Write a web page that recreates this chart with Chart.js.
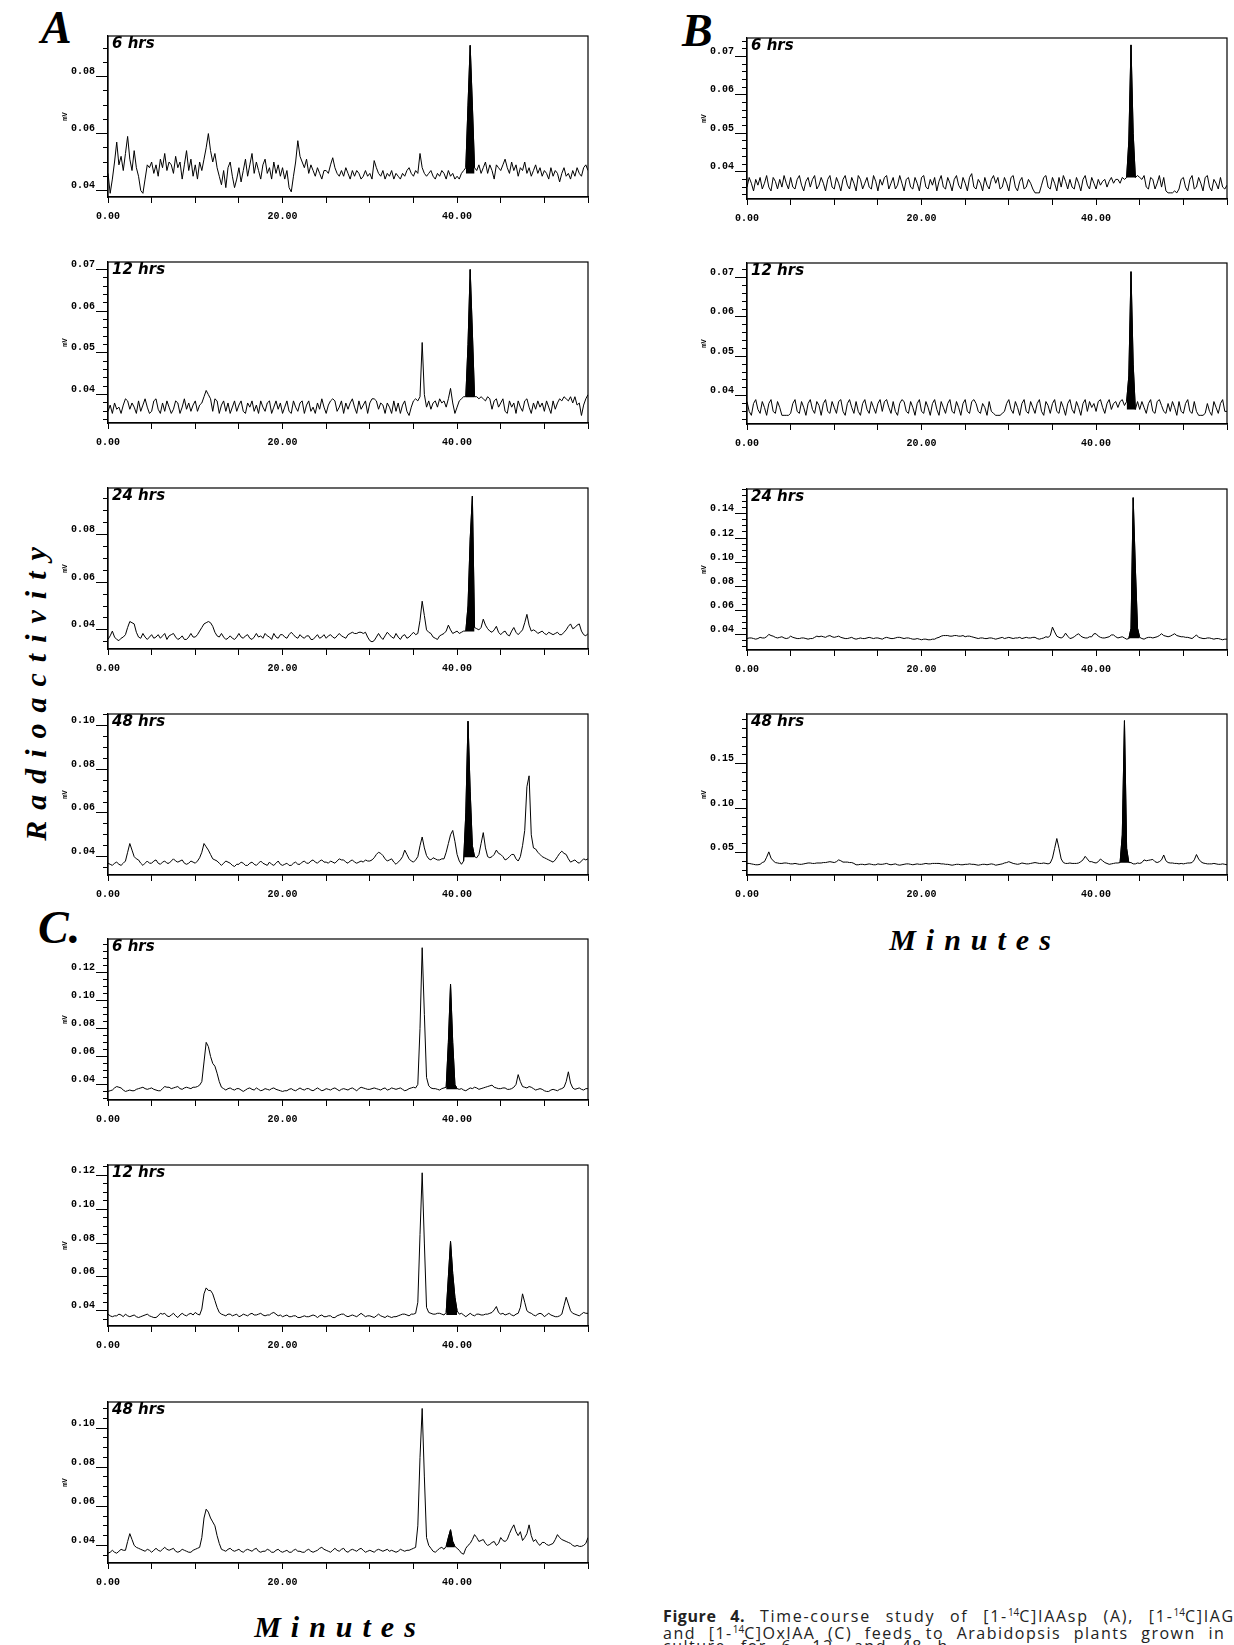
<!DOCTYPE html>
<html>
<head>
<meta charset="utf-8">
<script src="https://cdn.jsdelivr.net/npm/chart.js@4.4.1/dist/chart.umd.min.js"></script>
<style>
html, body { margin: 0; padding: 0; width: 1234px; height: 1645px; overflow: hidden; background: #fff; }
.panel { position: absolute; }
.horas { position: absolute; font: italic bold 15px 'DejaVu Sans', sans-serif; line-height: 1; color: #000; }
.letra { position: absolute; font: italic bold 46px 'Liberation Serif', serif; line-height: 1; color: #000; }
.titulo { position: absolute; font: italic bold 30px 'Liberation Serif', serif; letter-spacing: 10px; text-align: center; color: #000; }
.leyenda { position: absolute; left: 663px; font: 16px 'Open Sans', sans-serif; letter-spacing: 1.5px; word-spacing: 9px; white-space: nowrap; color: #222; line-height: 17px; }
.leyenda b { letter-spacing: 0.6px; }
.leyenda sup { font-size: 10px; letter-spacing: 0; }
</style>
</head>
<body>
<div class="letra" style="left:41px; top:5px;">A</div>
<div class="letra" style="left:682px; top:8px;">B</div>
<div class="letra" style="left:38px; top:905px;">C.</div>
<div class="titulo" style="left:-140px; top:676px; width:340px; height:36px; line-height:36px; padding-left:11px; letter-spacing:11px; transform:rotate(-90deg);">Radioactivity</div>
<div class="titulo" style="left:180px; top:1612px; width:300px; line-height:1; padding-left:10px;">Minutes</div>
<div class="titulo" style="left:815px; top:925px; width:300px; line-height:1; padding-left:10px;">Minutes</div>
<div class="leyenda" style="top:1604px; letter-spacing:1.7px;"><b>Figure 4.</b> Time-course study of [1-<sup>14</sup>C]IAAsp (A), [1-<sup>14</sup>C]IAGlc (B),</div>
<div class="leyenda" style="top:1621px; word-spacing:7px;">and [1-<sup>14</sup>C]OxIAA (C) feeds to Arabidopsis plants grown in liquid</div>
<div class="leyenda" style="top:1638px;">culture for 6, 12, and 48 h.</div>
<script>
// Tiempos de muestreo (min), cada 0.25 min
const TIMES = [0,0.25,0.5,0.75,1,1.25,1.5,1.75,2,2.25,2.5,2.75,3,3.25,3.5,3.75,4,4.25,4.5,4.75,
  5,5.25,5.5,5.75,6,6.25,6.5,6.75,7,7.25,7.5,7.75,8,8.25,8.5,8.75,9,9.25,9.5,9.75,
  10,10.25,10.5,10.75,11,11.25,11.5,11.75,12,12.25,12.5,12.75,13,13.25,13.5,13.75,14,14.25,14.5,14.75,
  15,15.25,15.5,15.75,16,16.25,16.5,16.75,17,17.25,17.5,17.75,18,18.25,18.5,18.75,19,19.25,19.5,19.75,
  20,20.25,20.5,20.75,21,21.25,21.5,21.75,22,22.25,22.5,22.75,23,23.25,23.5,23.75,24,24.25,24.5,24.75,
  25,25.25,25.5,25.75,26,26.25,26.5,26.75,27,27.25,27.5,27.75,28,28.25,28.5,28.75,29,29.25,29.5,29.75,
  30,30.25,30.5,30.75,31,31.25,31.5,31.75,32,32.25,32.5,32.75,33,33.25,33.5,33.75,34,34.25,34.5,34.75,
  35,35.25,35.5,35.75,36,36.25,36.5,36.75,37,37.25,37.5,37.75,38,38.25,38.5,38.75,39,39.25,39.5,39.75,
  40,40.25,40.5,40.75,41,41.25,41.5,41.75,42,42.25,42.5,42.75,43,43.25,43.5,43.75,44,44.25,44.5,44.75,
  45,45.25,45.5,45.75,46,46.25,46.5,46.75,47,47.25,47.5,47.75,48,48.25,48.5,48.75,49,49.25,49.5,49.75,
  50,50.25,50.5,50.75,51,51.25,51.5,51.75,52,52.25,52.5,52.75,53,53.25,53.5,53.75,54,54.25,54.5,54.75,
  55];
const X_LABELS = [0, 20, 40];

// Señal en µV (0.001 mV) para cada cromatograma
const a6Trace = [46,39,44,50,57,49,52,47,53,59,51,47,54,48,45,40,39,44,49,48,
  50,46,49,45,51,48,53,47,50,49,46,52,48,50,44,49,54,47,51,45,
  49,44,50,47,51,55,60,54,50,53,48,45,42,47,41,48,50,45,41,44,
  48,43,47,51,45,49,53,46,50,47,44,49,51,46,48,44,50,46,49,45,
  48,44,47,41,39.5,45,50,57.5,52,50,48,51,46,49,47,45,48,46,44,47,
  47,46,49,51.5,48,46,45,47,45,48,46,44,47,45,47,46,44,45,47,45,
  46,44,50.5,48,46,45,47,44,46,45,47,44,46,45,44,46,45,47,48,46,
  45,47,46,53,48,46,45,46,47,45,44,46,45,47,46,44,47,45,46,44,
  45,44,46,47,48,70,91,70,48,47,49,46,48,50,46,49,47,44,49,48,
  47,49,51,48,46,50,47,49,45,48,47,50,46,48,45,47,49,46,48,45,
  47,46,44,48,45,47,46,43,46,48,45,46,44,47,45,48,46,45,48,49,
  47];
const a12Trace = [36,37.5,35.5,38,36.5,37,35.5,37.5,39,38.5,36.5,38,37,35.5,38.5,36,37.5,39,37,35.5,
  36,38.5,39,36.5,35.5,38,36,38.5,37,35.5,36.5,38.5,38,35.5,37,39,36.5,38,36,37.5,
  38.5,36,37.5,38,39.5,41,40,39,36,39,38.5,35.5,37.5,38.5,36,38,35.5,37,38.5,36,
  37.5,38.5,36,35.5,38,37,38.5,36,37.5,35.5,38.5,37,36,38,38.5,35.5,37,38.5,36.5,38,
  35.5,37,38.5,36,35.5,38.5,37,36,38,38.5,35.5,37.5,38.5,36,37,35.5,38,36.5,39,37,
  35.5,37.5,38.5,39,38.5,36,37,38.5,35.5,38,36.5,38,39,37,35.5,38.5,36.5,37.5,38.5,35.5,
  38,39,39,38.5,36.5,38,37.5,35.5,38,37,35.5,38.5,36,38,35.5,37.5,38.5,36,35,37,
  38.5,39,38.5,39.5,52.5,40,37,38.5,36.5,38,38.5,37,39,38,38.5,37,39,41.5,38,35.5,
  37,38.5,39,39.5,39.5,52,70,55,39.5,39.5,39,39.5,39,38.5,39.5,39,36.5,38.5,39,37,
  38,39,36,35.5,38.5,37,38,35.5,38.5,37,36,38.5,39,37,35.5,38,36.5,38.5,37,38,
  36,38.5,37,35.5,38.5,36.5,38,39,38.5,39.5,39,38.5,39.5,38,39.5,37.5,38,35,37.5,39,
  40];
const a24Trace = [36,37.5,39.5,37,36,35.5,36.5,37,38,41,43.5,43,42.5,39,37,36.5,38.5,37,36,37,
  38,36.5,37,38,36.5,37.5,38.5,36,37.5,38,38.5,37,36,36.5,37.5,36,36,37,38.5,37,
  37,38,39.5,41,42.5,43,43.5,43,41.5,39,37.5,37,38.5,37,36,36.5,37.5,36.5,36,37,
  38.5,37,36.5,37.5,38,36.5,36,37,38.5,37,37.5,36.5,38.5,37.5,37,36,38.5,37,36.5,38,
  38,37,36.5,38,39,38,37,36.5,38,37,36.5,37.5,37.5,36,36,37,38,36.5,37,38,
  36.5,37.5,38,37,36.5,37.5,38.5,37.5,37,36.5,38,38.5,39,38.5,38.5,39,39,38.5,39,37,
  35.5,35,35.5,37,38.5,37,36,37.5,39,38,37,36.5,38.5,37,36,37.5,38,36.5,37,38,
  39,38,38.5,44,52,46,40,39,38.5,37,36.5,36,37.5,38,38.5,39.5,42,40,38.5,39,
  39.5,38.5,39,39.5,39.5,50,78,96,41,40.5,40,41,44.5,42,40.5,39.5,39,40,41.5,39,
  38,39,39.5,38,37.5,39.5,41,39,38,39,40,43,46.5,42,39.5,40,39.5,38.5,39,39.5,
  38.5,38,39,38.5,38,38.5,39,38,38,39,40,41.5,42.5,40.5,41,42,42.5,39.5,38,37.5,
  38.5];
const a48Trace = [37,36.5,36,37,37.5,36.5,36,37,38,42,46,43,40,39,38.5,37,36,37,38,37,
  37,38,38.5,37,36.5,37.5,38,37,37,38,39,38,37.5,38,38.5,37,36.5,37,38,37.5,
  37,38,39.5,42,46,44.5,43,41,39,38.5,38,37,36,37,38,37.5,37,36,35.5,36.5,
  36.5,37.5,37,36,36,37,37.5,36.5,36,37,38,37,36.5,36,37.5,36.5,36,37,38,36.5,
  36,36.5,37,36,36,37,37.5,36.5,36.5,37.5,38,37,37,38,38.5,37.5,37,38,38.5,37.5,
  37.5,37,38,37.5,37,38,39,38.5,38.5,37.5,37,38,38.5,37.5,37,37.5,38,37.5,38.5,38,
  38,38.5,39.5,41,42,41.5,40.5,39,38,38.5,39,37.5,36.5,37.5,38.5,40,43,41,39,38,
  37.5,38.5,40,45,49,44,40.5,39,38.5,39.5,39,38.5,38.5,39,39,42,46,50,52,47,
  41,38,36.5,38,60,102,70,45,40,39.5,41,46,51,44,40,39.5,40,41,43,41.5,
  41,40,38.5,39,40,41,41,39,38,40,45,52,72,77,50,44,43.5,42,41,40,
  39.5,39,38.5,38,37.5,38.5,40,41.5,42.5,41.5,41,39,37.5,38,38.5,37.5,37,38,39,38.5,
  39];
const b6Trace = [36,38.5,37,35,38,36.5,38.5,35.5,37,39,36,35,38.5,37.5,35.5,38,36,39,37,35.5,
  38.5,36,35.5,38,39,36.5,35,37.5,38.5,36,38,39,35.5,36.5,38.5,37,35,38,39,36,
  35.5,38.5,37,35,38,39,36.5,35.5,38.5,37,35,39,38,35.5,37,38.5,36,35.5,39,37.5,
  35,38,36.5,38.5,39,35.5,37,38.5,35.5,36.5,39,37,35,38,38.5,36,35.5,38.5,37,35,
  38.5,39,36,35.5,38,36.5,38.5,35,37.5,39,36,35.5,38.5,37,35,38,39,36.5,35.5,38.5,
  37,35,38.5,39.5,36,35.5,38,37,35,38.5,36.5,35.5,38,39,37,38.5,35.5,36,38.5,37,
  35,38.5,39,36,35,37.5,38.5,35.5,36,38,37,35.5,34.5,34.5,34.5,36.5,38.5,39,36,35.5,
  38.5,37,35,38.5,36,39,37.5,35.5,38,36,35.5,38.5,37,35,38,39,36.5,35.5,38.5,37,
  35.5,38,36.5,37.5,38,36,37.5,38.5,37,38,38,37,38.5,38,38.5,48,73,50,38.5,39,
  38.5,38,39,36,35.5,38.5,38,35.5,37,39,36,38.5,35,34.5,34.5,34.5,35,34.5,35.5,38,
  38.5,36,35,38,39,35.5,36,38.5,37,35,38.5,39,36,35,38,37,35.5,38.5,36,35.5,
  36.5];
const b12Trace = [38.5,36,35,38,39,36.5,35.5,38.5,37,35,38,39,36,35.5,38.5,37,35,35,35,35,
  35.5,38,39,36,35.5,38.5,37,35,38,39,36.5,35.5,38.5,37.5,35,38,39,36,35.5,38.5,
  37,35.5,38.5,39,36,35,38,39,37,35.5,38.5,36,35,38,39,36.5,35.5,38.5,37,35.5,
  38,39,36,38.5,39,37,35.5,38.5,36,35,38,39,38.5,36,35.5,38.5,37,35,38,39,
  36,35.5,38.5,37,35,38,39,36.5,35,38.5,37,35.5,38,39,36,35.5,38.5,37,35,38,
  39,36,35.5,38.5,39,38,36,35.5,38,37,35,38.5,36,35.5,35,35,35,35.5,36,38,
  39,36.5,35.5,38.5,37,35,38,39,36,35.5,38.5,37,35.5,38,39,36,35,38.5,37.5,35.5,
  38,39,36,35.5,38.5,37,35,38,39,36.5,35.5,38.5,37,35,38,39,36,38.5,37,38,
  36,38.5,39,37,35.5,38,39,36.5,38,38.5,37,38.5,39,37.5,38.5,45,71.5,48,36.5,38.5,
  36.5,38.5,37,35.5,38,39,36,35.5,38.5,39,37.5,36,35.5,38,36,38.5,37,35,38.5,36,
  35.5,38,39,36,35.5,38.5,36,35,35,35,35.5,38,36,35,38.5,37,35.5,38,39,36,
  36];
const b24Trace = [36.5,37,37,36.5,36,36.5,37.5,37,37,38,40,39,38.5,37.5,37,37.5,38,37,36.5,37,
  38.5,37.5,37,36.5,36.5,37,37,36.5,36,36.5,36.5,37.5,38.5,38,38.5,38,37.5,38.5,39,38,
  37.5,38,38.5,37.5,37,36.5,36.5,37,37.5,36.5,36,36.5,37,36.5,36.5,37,37.5,37,36.5,37,
  37,36.5,36,37,37.5,37,36.5,36.5,37,37.5,37.5,37,36.5,37,37,36.5,36,36,36.5,36,
  35.5,36,36,35.5,35.5,36,36,37,37.5,38.5,39,39,39,38.5,38.5,39,39,38.5,38.5,39,
  38,38.5,38.5,38,37.5,37,36.5,37,37,36.5,36.5,37,37,36.5,36,36.5,37,37.5,36.5,37,
  37.5,37,36.5,37,37,37.5,36.5,37,37.5,37,37,37.5,37.5,36.5,36,36.5,37,38,37.5,39,
  46,42,38.5,37.5,37,38,41,38.5,36.5,37,38,39.5,40.5,38.5,37.5,37,37,38,38,40.5,
  40.5,38.5,37.5,37,37,37.5,38,39.5,39.5,38,37,37.5,38,37,36,36.5,45,153.5,95,45,
  37.5,36.5,36,37,37.5,37.5,37,37.5,38,39,40.5,39,38.5,38,38.5,39.5,40.5,39,38.5,38,
  38,37.5,37.5,37,36.5,38,39.5,37.5,37,36.5,36.5,37,37,36.5,36,36.5,36.5,36,35.5,36,
  36];
const b48Trace = [38,38,37.5,37,36.5,36.5,37,39,40,45,51,44,41,39,38.5,38,38,38.5,38.5,38,
  37.5,37.5,38,37.5,37,37,37.5,38,38.5,38.5,38,38,38.5,38.5,38.5,39,39,39.5,40,39.5,
  39,40,42,41,39.5,39.5,39.5,39,39,38,36.5,36.5,37,37,36.5,37,37.5,37,36.5,36.5,
  37.5,37,37,37.5,38,37,36.5,37,37.5,36.5,36,36.5,37,37.5,37.5,37,36.5,37,37.5,37,
  37,37.5,38,37.5,37.5,38,38,38,38,37.5,37.5,37,37,36.5,36,36.5,37,37,36.5,36.5,
  37,37,37.5,37,37,36.5,36,36.5,37,37,36.5,37,37.5,37,36,36.5,37,37.5,38.5,39,
  40,39,38,37.5,37,37.5,38.5,38,37.5,37.5,38,38.5,39,38.5,38,38,38.5,38,37.5,38.5,
  44,55,66,55,43,39,38,38,38.5,38,38,38,38.5,40,42,46,43,40,40,39,
  38.5,40,43,41,39,38,37,37.5,38,38.5,38.5,39,70,198.5,55,39,39,37.5,37.5,38.5,
  38,39,42,41,41.5,42,42.5,40,39,40,42,47.5,41,39,38.5,38.5,38,38,37.5,38,
  37.5,38,38.5,38.5,39,42,48,43,40,38.5,38,37.5,37.5,37.5,38,37.5,37,37,37.5,37,
  36.5];
const c6Trace = [35,35.5,36,37.5,38.5,38,37.5,36,35,35.5,36,35.5,35.5,36.5,37,37.5,38,37,36.5,37,
  37.5,36.5,36,35.5,35.5,37,38.5,38,38,37,37.5,38,38.5,37,36.5,37.5,38,37.5,37,38,
  38,38.5,39.5,42,56,70,67,60,55,53,48,42,38,37,36,37,37.5,36.5,36,37,
  37,36,35,36,37,37.5,36.5,36,37.5,36.5,35.5,36,37,36.5,36,37,37.5,36.5,36,35.5,
  35,35.5,35.5,36.5,37,36,35.5,36.5,37.5,36.5,36,37,37,36,35.5,36.5,37.5,36.5,35.5,36,
  37,36.5,36,37,37.5,36.5,35.5,36.5,37,36.5,36,37,37.5,36.5,35.5,37,38,37.5,37,36.5,
  36.5,37,37.5,37,36.5,36,37,37.5,36,36.5,37.5,37,36.5,37,37.5,36.5,35.5,36,37,37.5,
  38,37.5,40,80,137.5,90,45,39,37.5,37,37,36.5,36,37,37.5,38,70,111.5,70,40,
  37,36.5,37,36,35.5,36.5,37.5,37,38,37.5,36.5,37,37.5,38,38.5,39,39.5,38,37.5,37,
  37,37.5,37.5,36.5,36.5,37,38,40,47,42,38.5,38,37.5,38.5,38,37,36,36.5,37,36.5,
  35.5,35,35,36,36.5,36,35.5,36.5,37,38,42,49,41,37.5,36.5,37,37.5,36.5,36,37,
  37];
const c12Trace = [38,37,36.5,37,37,38,37.5,36.5,38,37,36.5,37,37.5,36.5,36,36.5,37,37.5,38,37,
  36.5,36,36,37,38.5,38,38.5,37,36.5,37.5,38.5,37,36,37.5,38.5,37.5,37,38,38.5,37.5,
  39,38,37.5,41,50,53.5,52,52,50,46,42,39,38,37.5,37,38,38,37,37.5,38,
  36.5,37,38,37.5,37,38,38.5,37.5,37.5,38,38.5,37.5,37,37.5,37.5,38.5,39,38,37,37.5,
  36.5,37,37.5,36.5,36.5,37,37,36,36,36.5,37,36.5,36.5,37,37.5,37,36,37,37.5,36.5,
  36.5,37,37,36,36,37,37.5,38,38,37,36.5,37,37.5,37,36.5,37.5,38.5,37.5,36.5,37,
  37,36.5,36,37,38,37,36.5,36,37,36.5,36,36.5,36.5,37,37.5,38,38,37.5,37,38,
  38,38.5,45,85,121.5,80,42,39,38.5,38,38,38.5,38.5,38,37.5,39,60,81,62,48,
  40,38,38.5,37.5,36.5,37.5,38.5,37.5,37,38,38,37.5,37.5,38,38,38.5,39,40.5,42.5,39,
  38,38.5,37.5,38,38.5,37.5,37,38,38.5,42,50,45,40,39,38.5,37.5,37,38,38.5,38,
  36.5,37.5,38.5,37.5,37,36.5,36.5,37,38,43,48,44,40,38.5,38,37.5,37,38,39,38.5,
  38.5];
const c48Trace = [36,36.5,37.5,36.5,36,37,38,37.5,37.5,42,46,43,40,39,38.5,38,37.5,37,38,37.5,
  36.5,37.5,38.5,37.5,37,38,39,38,37.5,38,38.5,37,36.5,37,38,37.5,37,36.5,36.5,37.5,
  38,38.5,39,44,54,58.5,57,54,52,50,45,41,38,37.5,37,38,38.5,37.5,37,37.5,
  38,37,36.5,37.5,38,37.5,37,38,38.5,37,36.5,37,37,38,37.5,36.5,36.5,37.5,38,37,
  36.5,37,37.5,36.5,36.5,37.5,38,37,37,36.5,36.5,37.5,38,37,36.5,37,37.5,38.5,39,38,
  37.5,37,36.5,37.5,38.5,37.5,37,38,38.5,37,36.5,37.5,38,37.5,37,38,38.5,37.5,36.5,37,
  37.5,37,36.5,37.5,38,37.5,37,37.5,38,37,37.5,37,36.5,37,38,37.5,37,37.5,37.5,38,
  38.5,39,50,85,110,75,44,40,38.5,37,36.5,37.5,38.5,39,38,39.5,44,48,42,39.5,
  38.5,37.5,36,35.5,38.5,40,41,43,45.5,44,42,42.5,43,41,40,40.5,41.5,42,40,41,
  44,42.5,42,43,46,48.5,50.5,47,45,47,42.5,44,46,50.5,45,42,43,41,40,41.5,
  41.5,40.5,40,40.5,41,43,45.5,44,43,42.5,42,41.5,41,40,39.5,40,39.5,39.5,40,41,
  44];

// Límites del eje Y en µV [min, max]
const a6Range = [37.7, 94.3], a12Range = [33.2, 71.8], a24Range = [32, 99.4], a48Range = [31.6, 105.3];
const b6Range = [32.9, 74.8], b12Range = [32.8, 73.7], b24Range = [27, 160.7], b48Range = [25, 206];
const c6Range = [28.9, 143.7], c12Range = [31, 126.1], c48Range = [31, 113.3];

// Marcas principales con etiqueta (µV)
const a6Ticks = [40, 60, 80], a12Ticks = [40, 50, 60, 70], a24Ticks = [40, 60, 80], a48Ticks = [40, 60, 80, 100];
const b6Ticks = [40, 50, 60, 70], b12Ticks = [40, 50, 60, 70], b24Ticks = [40, 60, 80, 100, 120, 140], b48Ticks = [50, 100, 150];
const c6Ticks = [40, 60, 80, 100, 120], c12Ticks = [40, 60, 80, 100, 120], c48Ticks = [40, 60, 80, 100];

// Pico integrado (relleno negro): [inicio, fin, base en µV]
const a6Fill = [41, 42, 46], a12Fill = [41, 42, 39.4], a24Fill = [41, 42, 39.3], a48Fill = [40.75, 42, 39.7];
const b6Fill = [43.5, 44.5, 38.5], b12Fill = [43.5, 44.5, 36.5], b24Fill = [43.75, 45, 36.7], b48Fill = [42.75, 43.75, 38.8];
const c6Fill = [38.75, 40, 36.5], c12Fill = [38.75, 40, 37.5], c48Fill = [38.75, 39.75, 39];

// Geometría
const Y_W = 60, X_H = 28, PAD_T = 6, PAD_R = 4, BOX_W = 483, BOX_H = 162;

const PANELS = [
  {trace: a6Trace, range: a6Range, ticks: a6Ticks, minor: 5, fill: a6Fill, label: '6 hrs', x: 108, y: 35},
  {trace: a12Trace, range: a12Range, ticks: a12Ticks, minor: 2, fill: a12Fill, label: '12 hrs', x: 108, y: 261},
  {trace: a24Trace, range: a24Range, ticks: a24Ticks, minor: 5, fill: a24Fill, label: '24 hrs', x: 108, y: 487},
  {trace: a48Trace, range: a48Range, ticks: a48Ticks, minor: 5, fill: a48Fill, label: '48 hrs', x: 108, y: 713},
  {trace: b6Trace, range: b6Range, ticks: b6Ticks, minor: 2, fill: b6Fill, label: '6 hrs', x: 747, y: 37},
  {trace: b12Trace, range: b12Range, ticks: b12Ticks, minor: 2, fill: b12Fill, label: '12 hrs', x: 747, y: 262},
  {trace: b24Trace, range: b24Range, ticks: b24Ticks, minor: 5, fill: b24Fill, label: '24 hrs', x: 747, y: 488},
  {trace: b48Trace, range: b48Range, ticks: b48Ticks, minor: 10, fill: b48Fill, label: '48 hrs', x: 747, y: 713},
  {trace: c6Trace, range: c6Range, ticks: c6Ticks, minor: 5, fill: c6Fill, label: '6 hrs', x: 108, y: 938},
  {trace: c12Trace, range: c12Range, ticks: c12Ticks, minor: 5, fill: c12Fill, label: '12 hrs', x: 108, y: 1164},
  {trace: c48Trace, range: c48Range, ticks: c48Ticks, minor: 5, fill: c48Fill, label: '48 hrs', x: 108, y: 1401}
];

// Marco completo alrededor del área del gráfico
const marco = {
  id: 'marco',
  afterDatasetsDraw(chart) {
    const a = chart.chartArea, c = chart.ctx;
    c.save();
    c.strokeStyle = '#000';
    c.lineWidth = 1.2;
    c.strokeRect(a.left, a.top, a.right - a.left, a.bottom - a.top);
    c.restore();
  }
};

const fuenteEje = {family: "'Liberation Mono', monospace", size: 10, weight: 'bold'};

function crearPanel(p) {
  var div = document.createElement('div');
  div.className = 'panel';
  div.style.left = (p.x - Y_W) + 'px';
  div.style.top = (p.y - PAD_T) + 'px';
  var cv = document.createElement('canvas');
  cv.width = Y_W + BOX_W + PAD_R;
  cv.height = PAD_T + BOX_H + X_H;
  div.appendChild(cv);
  document.body.appendChild(div);

  var etiqueta = document.createElement('div');
  etiqueta.className = 'horas';
  etiqueta.textContent = p.label;
  etiqueta.style.left = (p.x + 4) + 'px';
  etiqueta.style.top = (p.y + 1) + 'px';
  document.body.appendChild(etiqueta);

  var puntos = TIMES.map((t, i) => ({x: t, y: p.trace[i]}));
  var pico = puntos.filter(q => q.x >= p.fill[0] && q.x <= p.fill[1]);

  new Chart(cv.getContext('2d'), {
    type: 'line',
    data: {
      datasets: [{
        data: puntos,
        borderColor: '#000',
        borderWidth: 1,
        pointRadius: 0,
        tension: 0,
        fill: false
      }, {
        data: pico,
        borderColor: '#000',
        borderWidth: 1,
        backgroundColor: '#000',
        pointRadius: 0,
        tension: 0,
        fill: {value: p.fill[2]}
      }]
    },
    options: {
      responsive: false,
      animation: false,
      events: [],
      layout: {padding: {top: PAD_T, right: PAD_R, left: 0, bottom: 0}},
      plugins: {legend: {display: false}, tooltip: {enabled: false}},
      scales: {
        x: {
          type: 'linear',
          min: 0,
          max: 55,
          afterFit: s => { s.height = X_H; },
          ticks: {
            stepSize: 5,
            autoSkip: false,
            maxRotation: 0,
            padding: 7,
            color: '#000',
            font: fuenteEje,
            callback: v => X_LABELS.includes(v) ? v.toFixed(2) : ''
          },
          grid: {drawOnChartArea: false, tickLength: 6, color: '#000'},
          border: {color: '#000', width: 1.2}
        },
        y: {
          min: p.range[0],
          max: p.range[1],
          afterFit: s => { s.width = Y_W; },
          ticks: {
            stepSize: p.minor,
            includeBounds: false,
            autoSkip: false,
            padding: 1,
            labelOffset: -5,
            color: '#000',
            font: fuenteEje,
            callback: v => p.ticks.includes(v) ? (v / 1000).toFixed(2) : ''
          },
          grid: {
            drawOnChartArea: false,
            tickLength: 12,
            color: '#000',
            tickBorderDash: c => (c.tick && p.ticks.includes(c.tick.value)) ? [] : [0, 7, 5, 100]
          },
          border: {color: '#000', width: 1.2},
          title: {
            display: true,
            text: 'mV',
            padding: {top: 13, bottom: 0},
            color: '#000',
            font: {family: "'Liberation Mono', monospace", size: 7, weight: 'bold'}
          }
        }
      }
    },
    plugins: [marco]
  });
}

PANELS.forEach(crearPanel);
</script>
</body>
</html>
